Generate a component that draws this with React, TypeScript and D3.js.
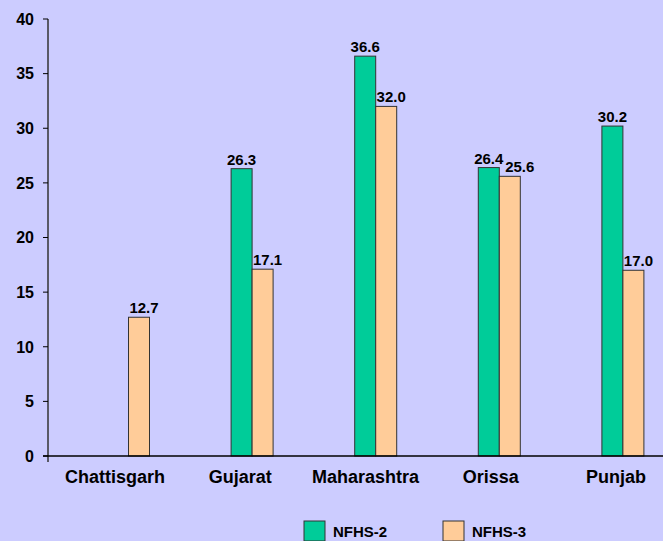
import React from "react";
import * as d3 from "d3";

const categories = ["Chattisgarh", "Gujarat", "Maharashtra", "Orissa", "Punjab"];
const seriesNames = ["NFHS-2", "NFHS-3"];
const nfhs2: (number | null)[] = [null, 26.3, 36.6, 26.4, 30.2];
const nfhs3: (number | null)[] = [12.7, 17.1, 32.0, 25.6, 17.0];
const yTicks = [0, 5, 10, 15, 20, 25, 30, 35, 40];

const W = 663;
const H = 541;
const BG = "#CCCCFF";
const GREEN = "#00CC99";
const ORANGE = "#FFCC99";
const FONT = "'Liberation Sans', Arial, Helvetica, sans-serif";

export default function App() {
  const y = d3.scaleLinear().domain([0, 40]).range([456, 19]);
  const axisX = 48;
  // bar pair positions
  const xBars = d3.scaleBand<string>().domain(categories).range([66.7, 684.7]).padding(0);
  // category labels
  const xLabels = d3.scaleBand<string>().domain(categories).range([52.4, 678.6]).padding(0);
  const barW = 21;
  const series = [
    { name: seriesNames[0], values: nfhs2, color: GREEN, off: -barW, lab: 0 },
    { name: seriesNames[1], values: nfhs3, color: ORANGE, off: 0, lab: 5 },
  ];

  return (
    <svg
      width={W}
      height={H}
      style={{ position: "absolute", left: 0, top: 0, display: "block" }}
      fontFamily={FONT}
    >
      <rect x={0} y={0} width={W} height={H} fill={BG} />
      {/* bars */}
      {series.map((s) =>
        categories.map((c, i) => {
          const v = s.values[i];
          if (v == null) return null;
          const cx = (xBars(c) as number) + xBars.bandwidth() / 2;
          const x = cx + s.off;
          return (
            <g key={s.name + c}>
              <rect
                x={x}
                y={y(v)}
                width={barW}
                height={y(0) - y(v)}
                fill={s.color}
                stroke="#333"
                strokeWidth={1}
              />
              <text
                x={x + barW / 2 + s.lab + (c === "Orissa" && s.lab ? 5 : 0)}
                y={y(v) - 4}
                textAnchor="middle"
                fontSize={15}
                fontWeight="bold"
                fill="#000"
              >
                {v.toFixed(1)}
              </text>
            </g>
          );
        })
      )}
      {/* axes */}
      <line x1={axisX} x2={axisX} y1={y(40)} y2={462} stroke="#333" strokeWidth={1.5} />
      <line x1={43} x2={W} y1={y(0)} y2={y(0)} stroke="#000" strokeWidth={1.5} />
      {yTicks.map((t) => (
        <g key={t}>
          <line x1={43} x2={axisX} y1={y(t)} y2={y(t)} stroke="#000" strokeWidth={1} />
          <text
            x={34}
            y={y(t)}
            dy="0.36em"
            textAnchor="end"
            fontSize={16}
            fontWeight="bold"
            fill="#000"
          >
            {t}
          </text>
        </g>
      ))}
      {categories.map((c) => (
        <text
          key={c}
          x={(xLabels(c) as number) + xLabels.bandwidth() / 2}
          y={483}
          textAnchor="middle"
          fontSize={18}
          fontWeight="bold"
          fill="#000"
        >
          {c}
        </text>
      ))}
      {/* legend */}
      {series.map((s, i) => {
        const lx = 304 + i * 139;
        return (
          <g key={s.name}>
            <rect x={lx} y={521} width={21} height={20} fill={s.color} stroke="#333" strokeWidth={1} />
            <text x={lx + 29} y={537} fontSize={15} fontWeight="bold" fill="#000">
              {s.name}
            </text>
          </g>
        );
      })}
    </svg>
  );
}
